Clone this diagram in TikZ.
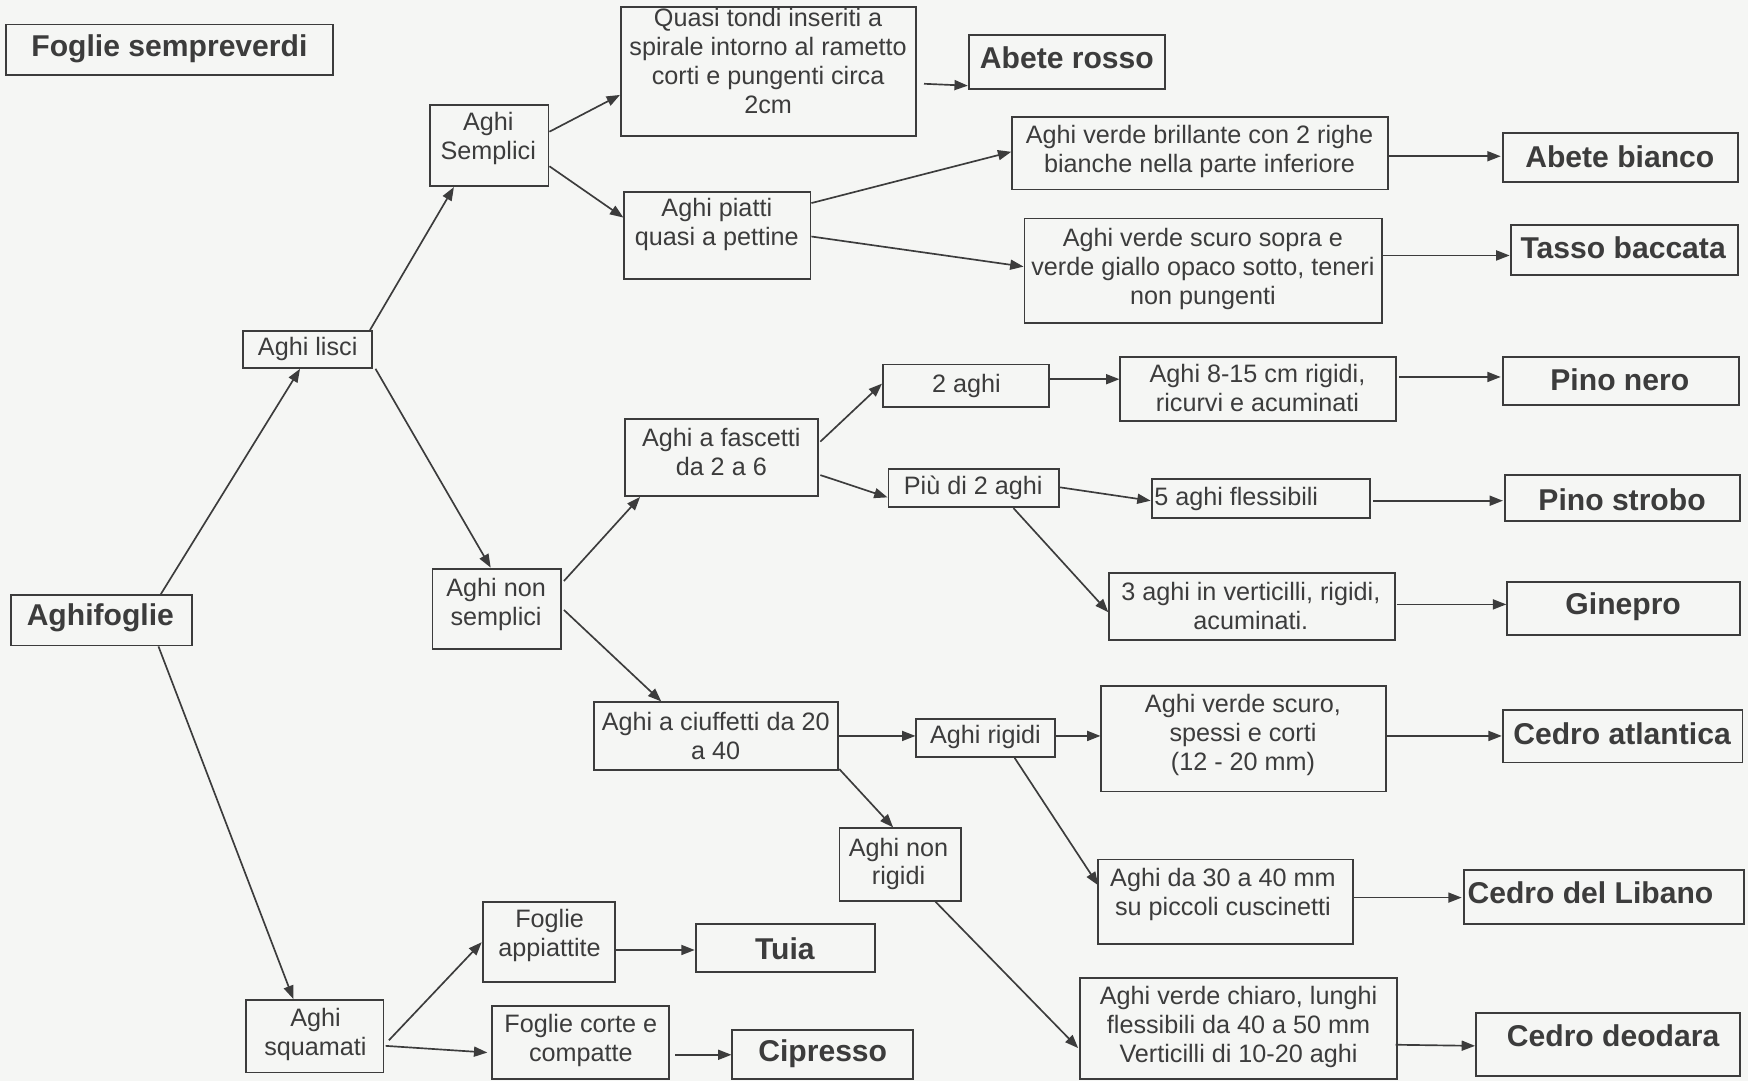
\documentclass[tikz,border=0pt]{standalone}
\usepackage{fontspec}
\setmainfont{Liberation Sans}
\usetikzlibrary{arrows.meta,calc}
\definecolor{ink}{HTML}{3C3C3C}
\definecolor{paper}{HTML}{F5F6F4}
\tikzset{
 box/.style={draw=ink, line width=0.85pt, inner sep=0pt},
 txt/.style={text=ink, align=center, inner sep=0pt, font=\fontsize{11.3}{13}\selectfont},
 big/.style={text=ink, align=center, inner sep=0pt, font=\fontsize{13.5}{16}\selectfont\bfseries},
 arr/.style={draw=ink, line width=0.75pt, -{Triangle[length=6pt,width=4.5pt]}},
}
\newcommand\bx[9]{%
 \node[box,minimum width={(#5-#3)*0.5pt},minimum height={(#6-#4)*0.5pt}] (#2) at ({(#3+#5)/2},{(#4+#6)/2}) {};
 \node[#1] (#2t) at (#7,#8) {#9};}
\begin{document}
\begin{tikzpicture}[x=0.5pt,y=-0.5pt]
\fill[paper] (0,0) rectangle (1568,970);
\useasboundingbox (0,0) rectangle (1568,970);
% boxes
\bx{big}{A}{5}{22}{299}{67}{152}{44}{Foglie sempreverdi}
\bx{txt}{B}{386}{94}{492}{167}{438}{124}{Aghi\\Semplici}
\bx{txt}{C}{557}{6}{822}{122}{689}{55}{Quasi tondi inseriti a\\spirale intorno al rametto\\corti e pungenti circa\\2cm}
\bx{big}{D}{869}{31}{1045}{80}{957}{52}{Abete rosso}
\bx{txt}{E}{560}{172}{727}{250}{643}{201}{Aghi piatti\\quasi a pettine}
\bx{txt}{F}{908}{105}{1245}{170}{1076}{136}{Aghi verde brillante con 2 righe\\bianche nella parte inferiore}
\bx{big}{G}{1348}{119}{1559}{163}{1453}{141}{Abete bianco}
\bx{txt}{H}{919}{196}{1240}{290}{1079}{241}{Aghi verde scuro sopra e\\verde giallo opaco sotto, teneri\\non pungenti}
\bx{big}{I}{1355}{202}{1559}{247}{1456}{222}{Tasso baccata}
\bx{txt}{J}{218}{297}{334}{330}{276}{313}{Aghi lisci}
\bx{big}{K}{10}{534}{172}{579}{90}{554}{Aghifoglie}
\bx{txt}{L}{792}{327}{941}{365}{867}{346}{2 aghi}
\bx{txt}{M}{1005}{320}{1252}{378}{1128}{348}{Aghi 8-15 cm rigidi,\\ricurvi e acuminati}
\bx{big}{N}{1348}{320}{1560}{363}{1453}{341}{Pino nero}
\bx{txt}{O}{561}{376}{734}{445}{647}{405}{Aghi a fascetti\\da 2 a 6}
\bx{txt}{P}{797}{421}{950}{455}{873}{438}{Più di 2 aghi}
\bx{txt,anchor=west}{Q}{1033}{430}{1229}{465}{1035}{448}{5 aghi flessibili}
\bx{big}{R}{1350}{426}{1561}{467}{1455}{448}{Pino strobo}
\bx{big}{S}{1352}{522}{1561}{570}{1456}{544}{Ginepro}
\bx{txt}{T}{995}{514}{1251}{574}{1122}{544}{3 aghi in verticilli, rigidi,\\acuminati.}
\bx{txt}{U}{388}{510}{503}{582}{445}{542}{Aghi non\\semplici}
\bx{txt}{V}{533}{630}{752}{691}{642}{660}{Aghi a ciuffetti da 20\\a 40}
\bx{txt}{W}{822}{645}{946}{679}{884}{661}{Aghi rigidi}
\bx{txt}{X}{988}{615}{1243}{710}{1115}{659}{Aghi verde scuro,\\spessi e  corti\\(12 - 20 mm)}
\bx{big}{Y}{1348}{637}{1563}{684}{1455}{658}{Cedro atlantica}
\bx{txt}{Z}{753}{743}{862}{808}{806}{775}{Aghi non\\rigidi}
\bx{txt}{AA}{985}{771}{1214}{847}{1097}{802}{Aghi da 30 a 40 mm\\su piccoli cuscinetti}
\bx{big,anchor=west}{AB}{1313}{780}{1564}{829}{1316}{801}{Cedro del Libano}
\bx{txt}{AC}{969}{877}{1253}{968}{1111}{921}{Aghi verde chiaro, lunghi\\flessibili da 40 a 50 mm\\Verticilli di 10-20 aghi}
\bx{big}{AD}{1324}{909}{1561}{965}{1447}{929}{Cedro deodara}
\bx{txt}{AE}{433}{809}{552}{881}{493}{839}{Foglie\\appiattite}
\bx{big}{AF}{624}{829}{785}{872}{704}{851}{Tuia}
\bx{txt}{AG}{221}{897}{344}{962}{283}{928}{Aghi\\squamati}
\bx{txt}{AH}{441}{902}{600}{968}{521}{933}{Foglie corte e\\compatte}
\bx{big}{AI}{657}{924}{819}{968}{738}{945}{Cipresso}
% connectors
\draw[arr] ($(K.north west)+(135,0)$) -- ($(J.south west)+(52,0)$);
\draw[arr] ($(J.north east)+(-3,0)$) -- ($(B.south west)+(22,0)$);
\draw[arr] ($(J.south east)+(2,0)$) -- ($(U.north west)+(53,0)$);
\draw[arr] ($(K.south west)+(133,0)$) -- ($(AG.north west)+(43,0)$);
\draw[arr] ($(B.north east)+(0,25)$) -- ($(C.north west)+(0,80)$);
\draw[arr] ($(B.north east)+(0,56)$) -- ($(E.north west)+(0,24)$);
\draw[arr] ($(C.north east)+(6,70)$) -- ($(D.south west)+(0,-4)$);
\draw[arr] ($(E.north east)+(0,11)$) -- ($(F.north west)+(0,32)$);
\draw[arr] ($(E.north east)+(0,41)$) -- ($(H.north west)+(0,44)$);
\draw[arr] ($(F.north east)+(0,36)$) -- ($(G.north west)+(-1,22)$);
\draw[arr] ($(H.north east)+(0,34)$) -- ($(I.north west)+(0,28)$);
\draw[arr] ($(U.north east)+(2,12)$) -- ($(O.south west)+(14,0)$);
\draw[arr] ($(U.north east)+(2,38)$) -- ($(V.north west)+(61,0)$);
\draw[arr] ($(O.north east)+(1,21)$) -- ($(L.north west)+(0,18)$);
\draw[arr] ($(O.north east)+(1,51)$) -- ($(P.north west)+(0,26)$);
\draw[arr] ($(L.north east)+(0,14)$) -- ($(M.north west)+(0,21)$);
\draw[arr] ($(M.north east)+(2,19)$) -- ($(N.north west)+(-1,19)$);
\draw[arr] ($(P.north east)+(0,17)$) -- ($(Q.north west)+(0,20)$);
\draw[arr] ($(P.south west)+(113,0)$) -- ($(T.north west)+(0,36)$);
\draw[arr] ($(Q.north east)+(2,20)$) -- ($(R.north west)+(-1,24)$);
\draw[arr] ($(T.north east)+(1,29)$) -- ($(S.north west)+(0,21)$);
\draw[arr] ($(V.north east)+(0,31)$) -- ($(W.north west)+(0,16)$);
\draw[arr] ($(V.south east)+(0,-2)$) -- ($(Z.north west)+(49,0)$);
\draw[arr] ($(W.north east)+(0,16)$) -- ($(X.north west)+(0,46)$);
\draw[arr] ($(X.north east)+(0,46)$) -- ($(Y.north west)+(0,24)$);
\draw[arr] ($(W.south west)+(89,0)$) -- ($(AA.north west)+(1,24)$);
\draw[arr] ($(AA.north east)+(0,35)$) -- ($(AB.north west)+(-1,26)$);
\draw[arr] ($(Z.south west)+(87,0)$) -- ($(AC.north west)+(-1,64)$);
\draw[arr] ($(AC.north east)+(-2,61)$) -- ($(AD.north west)+(0,30)$);
\draw[arr] ($(AG.north east)+(4,37)$) -- ($(AE.north west)+(0,37)$);
\draw[arr] ($(AG.north east)+(1,42)$) -- ($(AH.north west)+(-3,43)$);
\draw[arr] ($(AE.north east)+(0,44)$) -- ($(AF.north west)+(0,24)$);
\draw[arr] ($(AH.north east)+(5,45)$) -- ($(AI.north west)+(0,23)$);
\end{tikzpicture}
\end{document}
